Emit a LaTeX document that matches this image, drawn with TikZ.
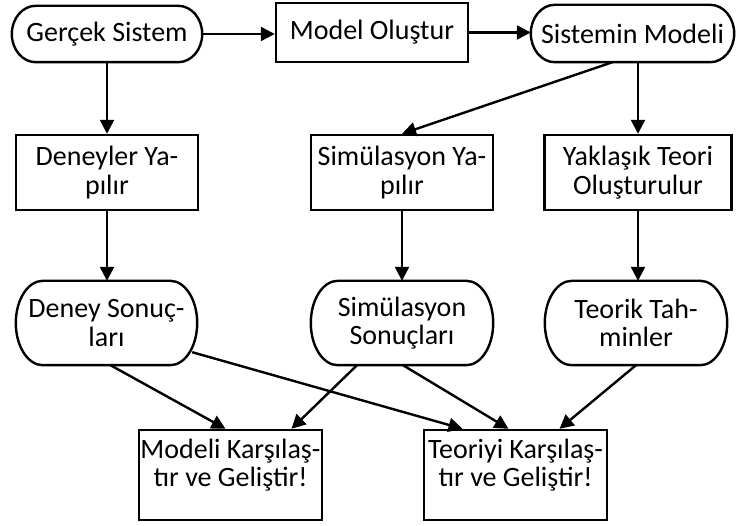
\documentclass[tikz,border=0pt]{standalone}
\usepackage{fontspec}
\setmainfont{Carlito}
\usetikzlibrary{arrows.meta,calc}
\newcommand\termshape[2]{%
  \draw[line width=2.4pt] let \p1=(#1.north west), \p2=(#1.south east), \n1={(\y1-\y2)/2} in
    (\x1+#2pt,\y1) -- (\x2-#2pt,\y1)
    arc[start angle=90,end angle=-90,x radius=#2pt,y radius=\n1]
    -- (\x1+#2pt,\y2)
    arc[start angle=270,end angle=90,x radius=#2pt,y radius=\n1] -- cycle;}
\begin{document}
\begin{tikzpicture}[x=1pt,y=-1pt,
  lbl/.style={inner sep=0pt, align=center, font=\fontsize{28}{28.5}\selectfont},
  rectbox/.style={lbl, draw, line width=2.4pt, rectangle},
  termnode/.style={lbl, rectangle},
  arr/.style={line width=2.4pt, -{Triangle[length=14pt,width=14pt]}},
]
\useasboundingbox (0,0) rectangle (736,526);
% row 1
\node[termnode, minimum width=190pt, minimum height=56pt] (gs) at (107,34) {Gerçek Sistem};
\node[rectbox, minimum width=192pt, minimum height=59pt] (mo) at (372,32.5) {Model Oluştur};
\node[termnode, minimum width=203pt, minimum height=57pt] (sm) at (632.5,33.5) {Sistemin Modeli};
% row 2
\node[rectbox, minimum width=182pt, minimum height=75pt] (dy) at (107,172.5) {Deneyler Ya-\\pılır};
\node[rectbox, minimum width=182pt, minimum height=75pt] (sy) at (402,172.5) {Simülasyon Ya-\\pılır};
\node[rectbox, minimum width=187pt, minimum height=75pt] (yk) at (638,172.5) {Yaklaşık Teori\\Oluşturulur};
% row 3
\node[termnode, minimum width=181pt, minimum height=84pt] (ds) at (106.5,323) {Deney Sonuç-\\ları};
\node[termnode, minimum width=182pt, minimum height=84pt] (ss) at (402,323) {Simülasyon\\Sonuçları};
\node[termnode, minimum width=182pt, minimum height=84pt] (tt) at (636,323) {Teorik Tah-\\minler};
% row 4
\node[rectbox, minimum width=183pt, minimum height=90pt] (mk) at (230.5,475) {};
\node[lbl] (mkt) at ([yshift=10pt]mk.center) {Modeli Karşılaş-\\tır ve Geliştir!};
\node[rectbox, minimum width=183pt, minimum height=90pt] (tk) at (515.5,475) {};
\node[lbl] (tkt) at ([yshift=10pt]tk.center) {Teoriyi Karşılaş-\\tır ve Geliştir!};
% terminator outlines
\termshape{gs}{24}
\termshape{sm}{24}
\termshape{ds}{27}
\termshape{ss}{27}
\termshape{tt}{27}
% connectors
\draw[arr] (gs.east) -- (gs.east -| mo.west);
\draw[arr] (mo.east) -- (mo.east -| sm.west);
\draw[arr] (gs.south) -- (dy.north);
\draw[arr] ([xshift=-20pt]sm.south) -- (sy.north);
\draw[arr] (yk.north |- sm.south) -- (yk.north);
\draw[arr] (dy.south) -- (dy.south |- ds.north);
\draw[arr] (sy.south) -- (ss.north);
\draw[arr] (yk.south) -- (yk.south |- tt.north);
\draw[arr] ([xshift=4pt]ds.south) -- ([xshift=-5pt]mk.north);
\draw[arr] ([xshift=-5pt,yshift=13pt]ds.south east) -- ([xshift=-53pt]tk.north);
\draw[arr] ([xshift=-45pt]ss.south) -- ([xshift=61pt]mk.north);
\draw[arr] ([xshift=1pt]ss.south) -- ([xshift=-7pt]tk.north);
\draw[arr] (tt.south) -- ([xshift=44pt]tk.north);
\end{tikzpicture}
\end{document}
